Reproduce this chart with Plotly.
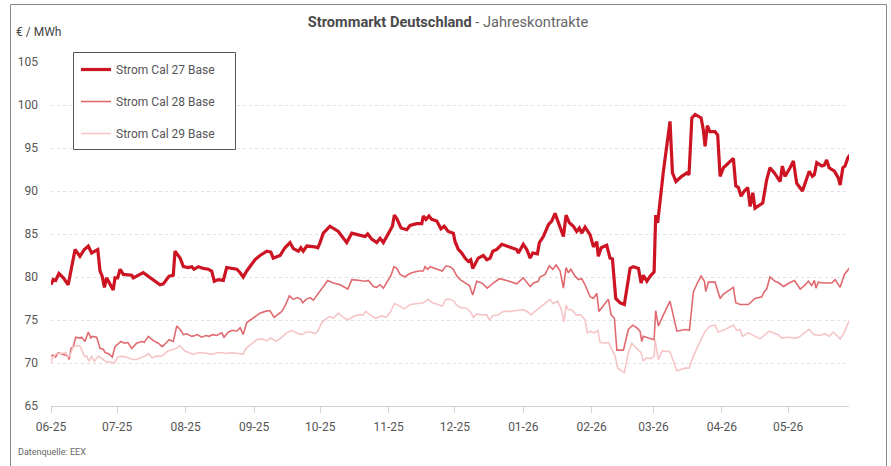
import pandas as pd
import plotly.graph_objects as go

# ---- data (x = days since 2025-06-01, y = EUR/MWh) ----
start_date = "2025-06-01"

cal27_day = [0, 1.0, 2.1, 3.6, 5.6, 7.8, 9.4, 10.9, 13.1, 15.1, 16.9, 18.4, 21.2, 22.2, 23.2, 24.2, 25.2, 26.7, 28.2, 29.0,
             30.2, 31.3, 32.8, 36.6, 37.3, 41.8, 44.1, 47.1, 49.4, 50.9, 53.5, 55.4, 56.2, 58.5,
             60.0, 62.2, 63.8, 64.8, 66.8, 69.0, 71.3, 72.8, 74.0, 75.8, 78.1, 79.6, 81.9, 84.2, 85.7, 87.1, 88.7, 91.0, 92.4, 94.7,
             97.8, 99.6, 100.7, 103.8, 106.0, 108.3, 109.8, 112.1, 113.2, 114.3, 115.9, 119.6,
             120.9, 121.9, 123.4, 126.4, 130.2, 134.0, 136.3, 139.3, 142.3, 143.5, 145.3, 147.6, 149.1, 150.6, 152.9, 154.7, 155.6, 156.7, 158.6, 161.2,
             162.7, 164.2, 165.7, 168.0, 168.7, 169.9, 171.3, 172.5, 174.8, 176.7, 178.2, 180.0,
             182.3, 183.1, 184.6, 186.1, 187.6, 189.1, 190.2, 191.1, 192.2, 193.6, 195.9, 197.5, 199.0, 200.2, 202.0, 204.3, 206.5, 208.8, 211.0, 211.8,
             214.0, 215.6, 217.1, 218.3, 220.4, 221.3, 223.1, 225.4, 226.9, 228.4, 229.9, 232.2, 233.4, 234.9, 236.7, 238.2, 239.4, 240.5, 242.0,
             244.3, 245.8, 247.3, 248.0, 249.3, 251.8, 253.3, 254.4, 255.9, 257.9, 259.8, 262.4, 263.9, 266.2, 267.4, 268.4, 270.0, 271.5, 273.3, 274.0,
             274.9, 277.5, 280.5, 281.6, 283.2, 285.8, 288.1, 289.1, 290.4, 291.9, 294.6, 295.6, 296.4, 297.4, 298.6, 300.9, 302.1,
             303.2, 304.7, 309.2, 310.3, 311.5, 312.7, 314.2, 315.7, 316.8, 318.0, 319.0, 320.5, 322.5, 324.3, 325.8, 327.8, 330.4, 331.4, 332.6, 334.9,
             336.4, 337.9, 340.5, 341.7, 343.6, 345.0, 345.9, 347.0, 349.3, 350.4, 351.5, 352.6, 353.8, 355.0, 356.8, 357.6, 358.8, 359.8, 361.0, 362.0]
cal27_val = [79.1, 79.7, 79.6, 80.4, 79.9, 79.1, 81.2, 83.2, 82.4, 83.2, 83.6, 82.8, 83.2, 80.7, 80.1, 78.8, 79.9, 79.1, 78.5, 79.9,
             79.9, 80.9, 80.3, 80.2, 79.9, 80.5, 80.1, 79.5, 79.1, 79.2, 80.1, 80.2, 83.0, 82.2,
             81.2, 81.1, 81.2, 80.9, 81.2, 81.0, 80.9, 80.7, 79.5, 79.7, 79.6, 81.1, 81.0, 80.9, 80.5, 80.0, 80.7, 81.6, 82.0, 82.5,
             83.0, 82.9, 82.2, 82.5, 83.4, 84.0, 83.3, 83.0, 83.4, 83.0, 83.6, 83.5,
             83.4, 84.0, 85.1, 85.9, 85.3, 84.0, 85.1, 84.9, 84.7, 85.0, 84.4, 84.0, 84.5, 84.0, 85.1, 85.9, 87.2, 86.8, 85.7, 85.5,
             86.0, 86.1, 86.2, 86.2, 87.1, 86.7, 87.1, 86.7, 86.5, 85.6, 85.9, 85.3,
             85.1, 84.1, 83.2, 82.8, 82.2, 81.8, 82.0, 81.0, 81.6, 82.2, 82.5, 82.0, 82.2, 83.0, 83.2, 83.8, 83.6, 83.4, 83.2, 82.8,
             83.8, 83.2, 82.2, 82.8, 82.7, 84.0, 84.7, 86.1, 86.5, 87.4, 86.3, 84.7, 87.2, 86.3, 85.9, 85.3, 85.7, 85.1, 85.8,
             84.9, 83.5, 84.1, 82.4, 83.4, 83.7, 82.2, 82.1, 77.5, 77.0, 76.8, 81.0, 81.2, 81.0, 79.3, 80.2, 79.5, 80.1, 80.6, 87.2,
             86.3, 92.3, 98.1, 92.1, 91.1, 91.7, 92.1, 91.9, 98.5, 98.9, 98.5, 97.1, 95.2, 97.6, 96.9, 96.9, 96.5,
             91.7, 92.7, 93.8, 90.6, 90.4, 89.4, 90.0, 90.4, 88.2, 89.8, 88.0, 88.3, 88.6, 91.3, 92.7, 92.1, 91.1, 92.9, 91.7, 92.7,
             93.5, 90.9, 90.0, 90.9, 92.3, 91.7, 91.9, 93.3, 92.9, 93.0, 93.6, 92.7, 92.5, 92.3, 91.5, 90.7, 92.7, 92.9, 93.8, 94.2]

cal28_day = [0, 1.0, 2.1, 3.3, 5.6, 7.6, 8.2, 9.1, 10.1, 11.2, 13.1, 13.9, 15.4, 16.9, 18.1, 18.7, 20.7, 22.2, 23.7, 24.5,
             26.0, 27.8, 29.0, 30.2, 31.7, 33.2, 34.8, 36.6, 38.8, 41.1, 42.3, 44.1, 46.4, 48.6, 50.4, 52.0, 53.5, 55.4, 57.0, 58.5,
             60.0, 61.5, 63.8, 65.3, 66.3, 68.3, 70.2, 71.7, 73.3, 75.1, 77.4, 78.4, 80.4, 82.3, 84.2, 85.7, 87.1, 88.7, 91.0, 92.4,
             94.7, 97.0, 99.2, 101.1, 103.0, 104.6, 106.0, 108.0, 109.8, 111.6, 113.2, 114.1, 115.6, 117.4, 118.9, 120.4,
             122.7, 125.4, 127.9, 131.0, 134.5, 136.3, 140.0, 142.3, 143.8, 146.1, 147.6, 149.1, 150.6, 152.1, 154.1, 155.4, 156.7, 158.2, 160.4, 161.9,
             163.5, 166.5, 168.7, 169.5, 170.7, 171.8, 173.7, 175.5, 177.3, 179.0,
             180.8, 182.3, 183.9, 185.4, 187.6, 189.6, 191.1, 192.9, 195.2, 197.7, 200.4, 203.2, 206.5, 211.0, 214.0, 215.9, 217.1, 218.6, 220.8, 221.6,
             223.9, 225.8, 227.4, 228.9, 230.7, 232.2, 233.4, 234.4, 235.5, 237.5, 239.0, 240.5, 242.0,
             244.3, 245.8, 247.3, 248.3, 250.7, 252.6, 253.8, 255.3, 256.4, 259.4, 261.6, 263.6, 265.4, 266.9, 267.7, 268.4, 270.7, 273.3, 274.0, 275.2,
             277.5, 280.5, 283.6, 287.4, 289.3, 291.1, 292.9, 294.6, 296.1, 296.7, 297.9, 300.9,
             303.2, 304.7, 309.2, 310.3, 312.2, 316.0, 319.0, 322.1, 323.2, 324.3, 325.8, 328.1, 329.9, 331.9, 334.5, 336.9, 339.5, 341.4, 343.2, 344.7,
             345.9, 346.6, 347.7, 350.0, 353.8, 355.3, 357.6, 359.5, 362.0]
cal28_val = [70.8, 70.9, 70.7, 71.2, 71.0, 70.8, 70.4, 71.7, 71.9, 73.0, 72.9, 73.0, 72.5, 73.6, 72.9, 73.1, 73.0, 71.7, 71.6, 71.2,
             71.1, 70.7, 71.9, 72.2, 72.5, 72.3, 72.4, 71.7, 72.3, 72.5, 72.4, 73.1, 72.6, 72.3, 71.9, 72.3, 72.7, 72.5, 74.3, 73.9,
             73.3, 73.4, 73.1, 73.2, 73.3, 73.0, 73.2, 73.1, 73.3, 73.2, 73.5, 73.0, 73.6, 73.8, 73.7, 74.1, 73.3, 74.7, 75.1, 75.4,
             75.8, 76.0, 76.1, 75.3, 75.7, 76.0, 76.6, 77.8, 77.4, 77.6, 77.4, 77.0, 77.4, 77.6, 77.3, 77.8,
             78.7, 79.6, 79.3, 79.1, 78.6, 79.7, 79.6, 79.5, 79.6, 78.9, 78.8, 79.1, 78.7, 79.3, 80.2, 81.2, 81.0, 80.3, 80.0, 80.3,
             80.5, 80.7, 80.7, 81.2, 80.9, 81.2, 81.0, 80.9, 80.7, 81.3,
             81.2, 80.9, 80.1, 79.7, 79.3, 79.0, 77.9, 79.5, 79.3, 78.7, 79.3, 79.8, 79.6, 79.2, 79.9, 79.3, 78.9, 79.3, 79.5, 80.0,
             80.3, 81.3, 80.9, 81.4, 80.7, 78.7, 81.1, 80.5, 80.9, 80.1, 79.7, 79.8, 79.1,
             77.7, 77.5, 78.1, 76.0, 76.8, 77.4, 75.6, 75.2, 71.5, 71.5, 73.9, 74.4, 74.1, 73.7, 72.5, 73.1, 72.9, 72.7, 76.1, 74.3,
             75.6, 77.2, 73.7, 73.9, 73.8, 78.3, 79.3, 80.1, 79.5, 78.3, 79.4, 79.4,
             77.5, 78.0, 78.8, 77.0, 76.8, 76.8, 77.5, 77.7, 78.3, 78.6, 80.0, 79.5, 79.3, 78.9, 79.3, 79.6, 78.6, 79.0, 79.5, 79.0,
             79.6, 78.7, 79.4, 79.3, 79.3, 79.7, 78.8, 80.3, 81.1]

cal29_day = [0, 0.6, 2.6, 4.8, 6.7, 7.8, 9.1, 10.1, 11.2, 13.1, 15.1, 16.2, 17.2, 18.4, 19.6, 21.4, 23.2, 24.5, 26.7, 28.7,
             30.2, 32.3, 35.0, 36.8, 38.8, 41.1, 42.6, 44.1, 45.9, 47.9, 49.9, 51.3, 52.9, 54.7, 56.6, 58.5,
             60.7, 62.7, 64.5, 66.3, 68.7, 70.8, 72.8, 75.1, 77.8, 79.6, 81.9, 84.9, 86.9, 88.4, 91.0, 93.2, 95.5, 97.8, 99.6, 102.0,
             104.6, 106.8, 109.1, 111.3, 113.6, 115.6, 117.7, 119.6,
             120.9, 122.7, 125.0, 126.4, 127.9, 130.2, 132.5, 134.5, 137.0, 139.3, 141.5, 142.6, 144.6, 147.1, 149.9, 151.7, 153.6, 155.6, 157.4, 160.1,
             162.7, 165.7, 168.7, 171.0, 172.8, 175.5, 177.3, 178.9, 180.8,
             182.6, 183.9, 186.1, 188.1, 190.2, 191.4, 192.9, 195.2, 197.5, 198.6, 200.2, 202.7, 205.0, 208.0, 211.0, 214.0, 216.3, 217.4, 219.8, 221.6,
             223.9, 226.1, 227.6, 229.5, 231.0, 232.5, 233.4, 234.4, 236.0, 237.9, 240.0, 242.0, 243.1,
             244.3, 246.2, 247.8, 248.8, 250.8, 252.6, 254.1, 255.6, 256.8, 259.8, 261.6, 263.2, 265.4, 267.4, 268.4, 269.9, 271.9, 273.3, 273.7, 275.2,
             277.0, 280.5, 283.6, 287.4, 289.1, 291.1, 294.1, 296.4, 298.6, 300.9,
             302.4, 305.4, 309.2, 310.7, 312.2, 313.3, 316.0, 319.0, 321.3, 323.2, 325.4, 327.3, 329.6, 331.1, 333.4, 337.9, 339.5, 341.4, 343.6, 345.5,
             348.6, 350.5, 352.6, 354.5, 357.6, 359.1, 362.0]
cal29_val = [70.0, 70.6, 71.1, 71.1, 71.2, 70.7, 71.2, 71.9, 72.0, 72.0, 70.8, 70.8, 70.2, 70.8, 70.2, 70.8, 70.5, 70.2, 70.1, 70.0,
             70.7, 70.8, 70.6, 70.4, 70.4, 70.6, 70.8, 71.1, 70.6, 70.8, 70.8, 71.0, 71.4, 71.5, 71.7, 72.0,
             71.4, 71.2, 71.0, 71.2, 71.2, 71.1, 71.0, 71.2, 71.2, 71.1, 71.2, 71.1, 71.0, 71.7, 72.2, 72.7, 72.8, 72.6, 72.9, 72.5,
             73.0, 73.5, 73.8, 73.5, 73.3, 73.6, 73.6, 73.4,
             73.7, 74.7, 75.2, 75.4, 75.2, 75.8, 75.3, 75.0, 75.4, 75.6, 75.6, 76.0, 75.6, 75.2, 75.5, 75.3, 75.8, 76.9, 76.7, 76.3,
             76.8, 76.9, 77.0, 77.4, 77.0, 76.8, 76.6, 77.4, 77.4,
             77.2, 76.7, 76.4, 76.4, 75.9, 75.3, 75.7, 75.6, 75.6, 75.0, 75.5, 75.6, 76.0, 76.0, 76.1, 76.2, 75.9, 75.6, 76.1, 76.5,
             76.9, 77.4, 76.9, 77.2, 76.4, 74.8, 76.7, 76.2, 76.2, 75.6, 75.6, 75.0, 73.5,
             73.7, 73.5, 73.8, 72.4, 72.3, 72.4, 71.5, 70.8, 69.4, 68.9, 71.2, 72.3, 71.7, 71.2, 70.2, 70.6, 70.5, 70.8, 72.7, 70.4,
             71.4, 71.3, 69.1, 69.4, 69.4, 70.8, 72.5, 73.7, 74.3, 74.4,
             73.6, 73.9, 74.4, 73.8, 73.9, 73.1, 73.5, 73.1, 72.8, 73.2, 73.7, 73.5, 73.3, 72.9, 73.0, 72.9, 73.1, 73.5, 73.9, 73.3,
             73.2, 73.4, 73.1, 73.6, 72.8, 73.4, 75.1]

series_names = ["Strom Cal 27 Base", "Strom Cal 28 Base", "Strom Cal 29 Base"]
tick_dates = ["2025-06-01", "2025-07-01", "2025-08-01", "2025-09-01", "2025-10-01", "2025-11-01",
              "2025-12-01", "2026-01-01", "2026-02-01", "2026-03-01", "2026-04-01", "2026-05-01"]
tick_labels = ["06-25", "07-25", "08-25", "09-25", "10-25", "11-25",
               "12-25", "01-26", "02-26", "03-26", "04-26", "05-26"]
y_ticks = [65, 70, 75, 80, 85, 90, 95, 100, 105]

assert len(cal27_day) == len(cal27_val)
assert len(cal28_day) == len(cal28_val)
assert len(cal29_day) == len(cal29_val)

base = pd.Timestamp(start_date)


def to_dates(days):
    return [base + pd.Timedelta(days=d) for d in days]


FONT = "Roboto, 'Open Sans', sans-serif"
colors = ["#cc1423", "#e06a6f", "#f6c5c7"]
widths = [3.2, 1.6, 1.6]

fig = go.Figure()
for name, d, v, c, w in zip(series_names, [cal27_day, cal28_day, cal29_day],
                            [cal27_val, cal28_val, cal29_val], colors, widths):
    fig.add_trace(go.Scatter(x=to_dates(d), y=v, mode="lines", name=name,
                             legendgroup=name,
                             line=dict(color=c, width=w, shape="linear"),
                             hovertemplate="%{x|%d.%m.%Y}: %{y:.2f} €/MWh<extra>" + name + "</extra>"))

W, H = 891, 466
ML, MR, MT, MB = 51, 42, 62, 60
PW, PH = W - ML - MR, H - MT - MB


def px2paper_x(px):
    return (px - ML) / PW


def px2paper_y(py):
    return (H - MB - py) / PH


fig.update_layout(
    width=W, height=H,
    margin=dict(l=ML, r=MR, t=MT, b=MB, pad=0, autoexpand=False),
    paper_bgcolor="white", plot_bgcolor="white",
    font=dict(family=FONT, size=12, color="#555"),
    title=dict(text="<b>Strommarkt Deutschland</b><span style='color:#666'> - Jahreskontrakte</span>",
               x=448 / W, xref="container", xanchor="center",
               y=1 - 22 / H, yref="container", yanchor="middle",
               font=dict(family=FONT, size=14.6, color="#4a4a4a")),
    xaxis=dict(type="date", range=[base, base + pd.Timedelta(days=361.6)],
               tickvals=tick_dates, ticktext=tick_labels,
               showgrid=False, zeroline=False, automargin=False,
               showline=True, linecolor="#d0d0d0", linewidth=1,
               ticks="outside", ticklen=6, tickcolor="#d0d0d0", tickwidth=1,
               tickfont=dict(family=FONT, size=12, color="#555"), ticklabelstandoff=4),
    yaxis=dict(range=[65, 105], tickvals=y_ticks, showgrid=True, automargin=False,
               gridcolor="#e0e0e0", griddash="3px,3px", gridwidth=1,
               zeroline=False, showline=False, ticks="",
               tickfont=dict(family=FONT, size=12, color="#555"), ticklabelstandoff=12),
    showlegend=True,
    legend=dict(x=px2paper_x(76), y=px2paper_y(55), xanchor="left", yanchor="top",
                bgcolor="rgba(0,0,0,0)", borderwidth=0,
                font=dict(family=FONT, size=12, color="#555"),
                tracegroupgap=13, traceorder="grouped"),
    shapes=[
        dict(type="rect", xref="paper", yref="paper",
             x0=px2paper_x(10.5), x1=px2paper_x(886.5), y0=px2paper_y(480), y1=px2paper_y(4.5),
             line=dict(color="#8a8a8a", width=1), fillcolor="rgba(0,0,0,0)", layer="below"),
        dict(type="rect", xref="paper", yref="paper",
             x0=px2paper_x(73.5), x1=px2paper_x(235.5), y0=px2paper_y(149.5), y1=px2paper_y(52.5),
             line=dict(color="#555", width=1), fillcolor="white", layer="above"),
    ],
    annotations=[
        dict(text="€ / MWh", xref="paper", yref="paper", x=px2paper_x(14), y=px2paper_y(32),
             xanchor="left", yanchor="middle", showarrow=False,
             font=dict(family=FONT, size=12, color="#444")),
        dict(text="Datenquelle: EEX", xref="paper", yref="paper", x=px2paper_x(16), y=px2paper_y(452),
             xanchor="left", yanchor="middle", showarrow=False,
             font=dict(family=FONT, size=9, color="#666")),
    ],
)

fig.write_html("out.html", config={"displayModeBar": False},
               post_script="document.body.style.margin='0';")
